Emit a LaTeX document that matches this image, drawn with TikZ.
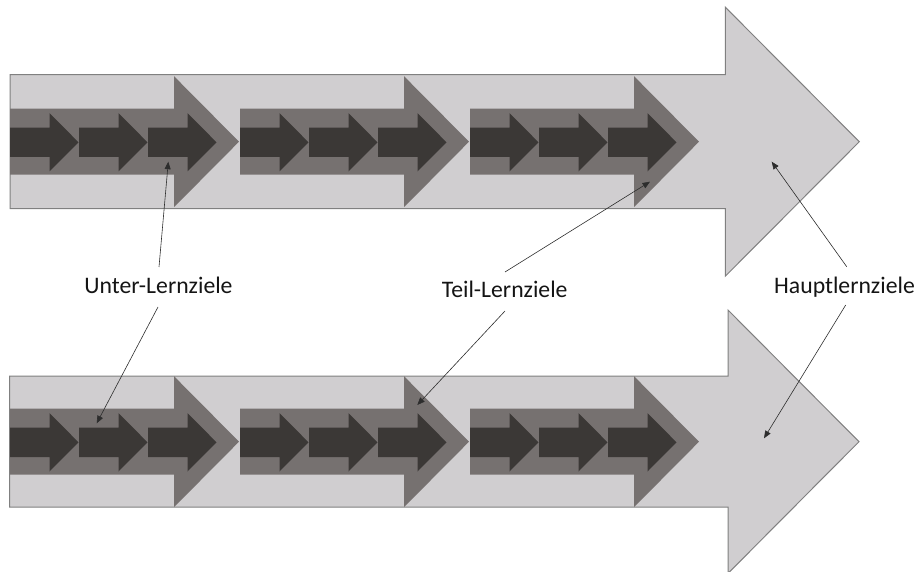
\documentclass[tikz,border=0pt]{standalone}
\usepackage{fontspec}
\setmainfont{Carlito}
\usetikzlibrary{arrows.meta}
\definecolor{lightg}{RGB}{208,206,208}
\definecolor{midg}{RGB}{118,113,112}
\definecolor{darkg}{RGB}{59,56,54}
\definecolor{edgeg}{RGB}{128,128,128}
\definecolor{lineg}{RGB}{45,45,45}
\newcommand\arrowshape[7]{%
  \path[#1] (#2,#5-#6) -- (#3,#5-#6) -- (#3,#5-#7) -- (#4,#5) -- (#3,#5+#7) -- (#3,#5+#6) -- (#2,#5+#6) -- cycle;}
\newcommand\arrowrow[1]{%
  \foreach \k in {0,1,2}{%
    \pgfmathsetmacro\xa{10+230*\k}%
    \pgfmathsetmacro\xb{\xa+164}%
    \pgfmathsetmacro\xc{\xa+229}%
    \arrowshape{midarrow}{\xa}{\xb}{\xc}{#1}{33}{65.5}%
    \foreach \j in {0,1,2}{%
      \pgfmathsetmacro\sa{\xa+69*\j}%
      \pgfmathsetmacro\sb{\sa+39.5}%
      \pgfmathsetmacro\sc{\sa+68.5}%
      \arrowshape{smallarrow}{\sa}{\sb}{\sc}{#1+0.6}{14.7}{29.2}%
    }%
  }%
}
\begin{document}
\begin{tikzpicture}[x=1pt,y=-1pt,
  bigarrow/.style={fill=lightg,draw=edgeg,line width=1pt},
  midarrow/.style={fill=midg},
  smallarrow/.style={fill=darkg},
  lbl/.style={font=\fontsize{23.7}{27}\selectfont, text=black!92, inner sep=0pt},
  pointer/.style={draw=lineg,line width=0.6pt,-{Triangle[length=7.5pt,width=6pt]}}]
\useasboundingbox (0,0) rectangle (919,572);
% big arrows
\arrowshape{bigarrow}{10}{725.3}{859.3}{141.7}{67}{134.5}
\arrowshape{bigarrow}{9.5}{728}{859}{441.7}{65.5}{131.7}
% inner arrows
\arrowrow{141.7}
\arrowrow{441.7}
% labels
\node[lbl,anchor=base] (unter) at (158.5,294) {Unter-Lernziele};
\node[lbl,anchor=base] (teil) at (504.7,297.7) {Teil-Lernziele};
\node[lbl,anchor=base] (haupt) at (844.5,293.3) {Hauptlernziele};
% pointer ends
\coordinate (u1s) at (159,267);   \coordinate (u1e) at (168.3,161.7);
\coordinate (u2s) at (158,307);   \coordinate (u2e) at (96.7,423.3);
\coordinate (t1s) at (505,272);   \coordinate (t1e) at (650,181.7);
\coordinate (t2s) at (505,311);   \coordinate (t2e) at (417.3,405);
\coordinate (h1s) at (846.7,266.7); \coordinate (h1e) at (771.7,161.7);
\coordinate (h2s) at (845.7,305); \coordinate (h2e) at (764,438.3);
\draw[pointer] (u1s) -- (u1e);
\draw[pointer] (u2s) -- (u2e);
\draw[pointer] (t1s) -- (t1e);
\draw[pointer] (t2s) -- (t2e);
\draw[pointer] (h1s) -- (h1e);
\draw[pointer] (h2s) -- (h2e);
\end{tikzpicture}
\end{document}
